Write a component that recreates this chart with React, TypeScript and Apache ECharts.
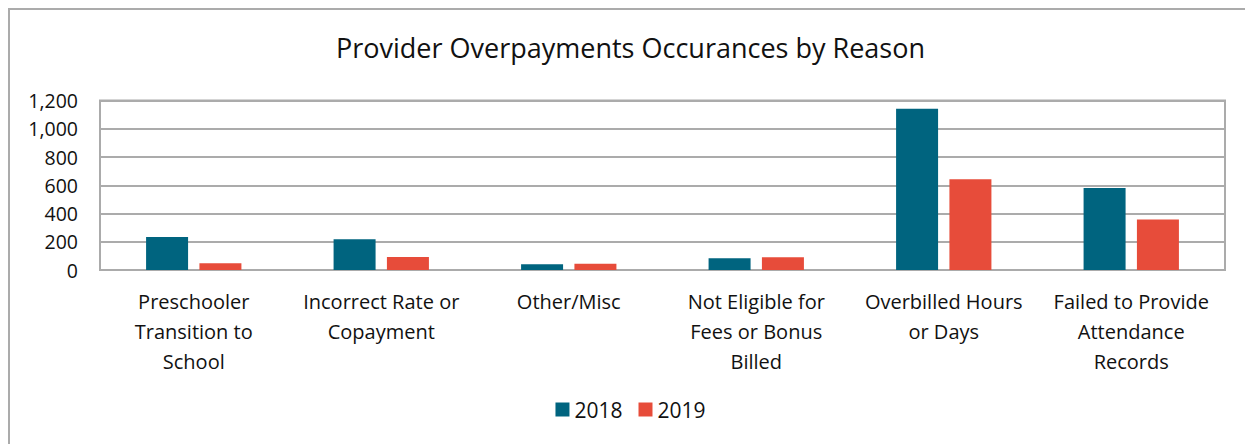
import React, { useEffect, useRef } from "react";
import * as echarts from "echarts";

const categories = [
  "Preschooler\nTransition to\nSchool",
  "Incorrect Rate or\nCopayment",
  "Other/Misc",
  "Not Eligible for\nFees or Bonus\nBilled",
  "Overbilled Hours\nor Days",
  "Failed to Provide\nAttendance\nRecords",
];
const values2018 = [234, 217, 40, 83, 1141, 581];
const values2019 = [47, 92, 45, 90, 643, 357];
const yTicks = { min: 0, max: 1200, interval: 200 };

const FONT = "'Open Sans', 'Noto Sans', sans-serif";
const GRAY = "#ababab";

export default function App() {
  const ref = useRef<HTMLDivElement>(null);
  useEffect(() => {
    const chart = echarts.init(ref.current!, null, { renderer: "svg" });
    chart.setOption({
      animation: false,
      textStyle: { fontFamily: FONT },
      title: {
        text: "Provider Overpayments Occurances by Reason",
        left: "center",
        top: 21,
        textStyle: { fontFamily: FONT, fontSize: 27, fontWeight: "normal", color: "#111" },
      },
      legend: {
        bottom: 19,
        left: "center",
        itemWidth: 14,
        itemHeight: 14,
        itemGap: 16,
        icon: "rect",
        textStyle: { fontFamily: FONT, fontSize: 21, color: "#111" },
        data: ["2018", "2019"],
      },
      grid: {
        left: 92,
        right: 28,
        top: 92.5,
        bottom: 174,
        show: true,
        borderColor: GRAY,
        borderWidth: 2,
      },
      xAxis: {
        type: "category",
        data: categories,
        axisTick: { show: false },
        axisLine: { lineStyle: { color: GRAY, width: 2 } },
        axisLabel: {
          interval: 0,
          margin: 16,
          fontFamily: FONT,
          fontSize: 20,
          lineHeight: 30,
          color: "#111",
          verticalAlign: "top",
        },
      },
      yAxis: {
        type: "value",
        min: yTicks.min,
        max: yTicks.max,
        interval: yTicks.interval,
        axisLine: { show: false },
        axisTick: { show: false },
        splitLine: { lineStyle: { color: GRAY, width: 2 } },
        axisLabel: {
          margin: 22,
          fontFamily: FONT,
          fontSize: 19.5,
          color: "#111",
          formatter: (v: number) => v.toLocaleString("en-US"),
        },
      },
      series: [
        {
          name: "2018",
          type: "bar",
          data: values2018,
          barWidth: 42,
          barGap: "27%",
          itemStyle: { color: "#00647f" },
        },
        {
          name: "2019",
          type: "bar",
          data: values2019,
          barWidth: 42,
          itemStyle: { color: "#e74c3a" },
        },
      ],
      graphic: [
        { type: "line", shape: { x1: 1, y1: 0, x2: 1, y2: 436 }, style: { stroke: GRAY, lineWidth: 2 } },
        { type: "line", shape: { x1: 0, y1: 1, x2: 1245, y2: 1 }, style: { stroke: GRAY, lineWidth: 2 } },
      ],
    });
    return () => chart.dispose();
  }, []);
  return <div ref={ref} style={{ width: 1245, height: 436 }} />;
}
